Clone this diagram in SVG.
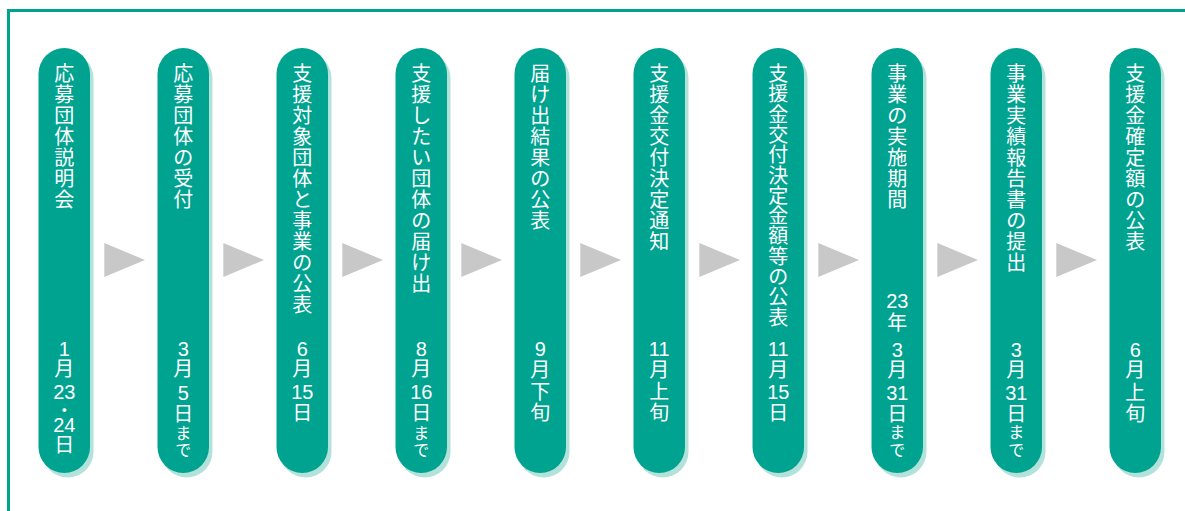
<svg xmlns="http://www.w3.org/2000/svg" width="1185" height="511" viewBox="0 0 1185 511">
<defs>
<style>
.frame{fill:none;stroke:#00a390;stroke-width:3}
.pill{fill:#00a390}
.shadow{fill:#b3e2db}
.arrow{fill:#c8c8c8}
text{font-family:"Liberation Sans","Noto Sans CJK JP",sans-serif;fill:#ffffff;text-anchor:middle;font-size:20px}
.sm{font-size:16px}
.dot{font-size:18px}
</style>
<rect id="pillShape" x="0" y="48" width="51.5" height="425" rx="25.75" ry="25.75"/>
</defs>
<rect width="1185" height="511" fill="#ffffff"/>
<rect class="frame" x="8.5" y="10.5" width="1200" height="600"/>
<g id="connectors">
<polygon class="arrow" points="104.3,243 145,260 104.3,277"/>
<polygon class="arrow" points="223.3,243 264,260 223.3,277"/>
<polygon class="arrow" points="342.3,243 383,260 342.3,277"/>
<polygon class="arrow" points="461.3,243 502,260 461.3,277"/>
<polygon class="arrow" points="580.3,243 621,260 580.3,277"/>
<polygon class="arrow" points="699.3,243 740,260 699.3,277"/>
<polygon class="arrow" points="818.3,243 859,260 818.3,277"/>
<polygon class="arrow" points="937.3,243 978,260 937.3,277"/>
<polygon class="arrow" points="1056.3,243 1097,260 1056.3,277"/>
</g>
<g id="node1">
<use href="#pillShape" class="shadow" x="42" y="4.5"/>
<use href="#pillShape" class="pill" x="38.5"/>
<text x="64.25" y="81">応</text><text x="64.25" y="102">募</text><text x="64.25" y="123">団</text><text x="64.25" y="144">体</text><text x="64.25" y="165">説</text><text x="64.25" y="186">明</text><text x="64.25" y="207">会</text>
<text x="64.25" y="356">1</text><text x="64.25" y="376">月</text><text x="64.25" y="399">23</text><text class="dot" x="64.25" y="416.5">・</text><text x="64.25" y="431.5">24</text><text x="64.25" y="452">日</text>
</g>
<g id="node2">
<use href="#pillShape" class="shadow" x="161" y="4.5"/>
<use href="#pillShape" class="pill" x="157.5"/>
<text x="183.25" y="81">応</text><text x="183.25" y="102">募</text><text x="183.25" y="123">団</text><text x="183.25" y="144">体</text><text x="183.25" y="165">の</text><text x="183.25" y="186">受</text><text x="183.25" y="207">付</text>
<text x="183.25" y="356">3</text><text x="183.25" y="376">月</text><text x="183.25" y="399.5">5</text><text x="183.25" y="421">日</text><text class="sm" x="183.25" y="439">ま</text><text class="sm" x="183.25" y="455.5">で</text>
</g>
<g id="node3">
<use href="#pillShape" class="shadow" x="280" y="4.5"/>
<use href="#pillShape" class="pill" x="276.5"/>
<text x="302.25" y="81">支</text><text x="302.25" y="102">援</text><text x="302.25" y="123">対</text><text x="302.25" y="144">象</text><text x="302.25" y="165">団</text><text x="302.25" y="186">体</text><text x="302.25" y="207">と</text><text x="302.25" y="228">事</text><text x="302.25" y="249">業</text><text x="302.25" y="270">の</text><text x="302.25" y="291">公</text><text x="302.25" y="312">表</text>
<text x="302.25" y="355.5">6</text><text x="302.25" y="376">月</text><text x="302.25" y="399">15</text><text x="302.25" y="420">日</text>
</g>
<g id="node4">
<use href="#pillShape" class="shadow" x="399" y="4.5"/>
<use href="#pillShape" class="pill" x="395.5"/>
<text x="421.25" y="81">支</text><text x="421.25" y="102">援</text><text x="421.25" y="123">し</text><text x="421.25" y="144">た</text><text x="421.25" y="165">い</text><text x="421.25" y="186">団</text><text x="421.25" y="207">体</text><text x="421.25" y="228">の</text><text x="421.25" y="249">届</text><text x="421.25" y="270">け</text><text x="421.25" y="291">出</text>
<text x="421.25" y="355.5">8</text><text x="421.25" y="376">月</text><text x="421.25" y="399">16</text><text x="421.25" y="420">日</text><text class="sm" x="421.25" y="439">ま</text><text class="sm" x="421.25" y="455.5">で</text>
</g>
<g id="node5">
<use href="#pillShape" class="shadow" x="518" y="4.5"/>
<use href="#pillShape" class="pill" x="514.5"/>
<text x="540.25" y="81">届</text><text x="540.25" y="102">け</text><text x="540.25" y="123">出</text><text x="540.25" y="144">結</text><text x="540.25" y="165">果</text><text x="540.25" y="186">の</text><text x="540.25" y="207">公</text><text x="540.25" y="228">表</text>
<text x="540.25" y="356">9</text><text x="540.25" y="376.5">月</text><text x="540.25" y="399">下</text><text x="540.25" y="420">旬</text>
</g>
<g id="node6">
<use href="#pillShape" class="shadow" x="637" y="4.5"/>
<use href="#pillShape" class="pill" x="633.5"/>
<text x="659.25" y="81">支</text><text x="659.25" y="102">援</text><text x="659.25" y="123">金</text><text x="659.25" y="144">交</text><text x="659.25" y="165">付</text><text x="659.25" y="186">決</text><text x="659.25" y="207">定</text><text x="659.25" y="228">通</text><text x="659.25" y="249">知</text>
<text x="659.25" y="356">11</text><text x="659.25" y="376.5">月</text><text x="659.25" y="399">上</text><text x="659.25" y="420">旬</text>
</g>
<g id="node7">
<use href="#pillShape" class="shadow" x="756" y="4.5"/>
<use href="#pillShape" class="pill" x="752.5"/>
<text x="778.25" y="81">支</text><text x="778.25" y="101.3">援</text><text x="778.25" y="121.6">金</text><text x="778.25" y="141.9">交</text><text x="778.25" y="162.2">付</text><text x="778.25" y="182.5">決</text><text x="778.25" y="202.8">定</text><text x="778.25" y="223.1">金</text><text x="778.25" y="243.4">額</text><text x="778.25" y="263.7">等</text><text x="778.25" y="284">の</text><text x="778.25" y="304.3">公</text><text x="778.25" y="324.6">表</text>
<text x="778.25" y="356">11</text><text x="778.25" y="376.5">月</text><text x="778.25" y="399.3">15</text><text x="778.25" y="420">日</text>
</g>
<g id="node8">
<use href="#pillShape" class="shadow" x="875" y="4.5"/>
<use href="#pillShape" class="pill" x="871.5"/>
<text x="897.25" y="81">事</text><text x="897.25" y="102">業</text><text x="897.25" y="123">の</text><text x="897.25" y="144">実</text><text x="897.25" y="165">施</text><text x="897.25" y="186">期</text><text x="897.25" y="207">間</text>
<text x="897.25" y="308.3">23</text><text x="897.25" y="330">年</text><text x="897.25" y="356.7">3</text><text x="897.25" y="376.5">月</text><text x="897.25" y="400">31</text><text x="897.25" y="420.5">日</text><text class="sm" x="897.25" y="437.5">ま</text><text class="sm" x="897.25" y="455.5">で</text>
</g>
<g id="node9">
<use href="#pillShape" class="shadow" x="994" y="4.5"/>
<use href="#pillShape" class="pill" x="990.5"/>
<text x="1016.25" y="81">事</text><text x="1016.25" y="102">業</text><text x="1016.25" y="123">実</text><text x="1016.25" y="144">績</text><text x="1016.25" y="165">報</text><text x="1016.25" y="186">告</text><text x="1016.25" y="207">書</text><text x="1016.25" y="228">の</text><text x="1016.25" y="249">提</text><text x="1016.25" y="270">出</text>
<text x="1016.25" y="356.7">3</text><text x="1016.25" y="376.5">月</text><text x="1016.25" y="400">31</text><text x="1016.25" y="420.5">日</text><text class="sm" x="1016.25" y="437.5">ま</text><text class="sm" x="1016.25" y="455.5">で</text>
</g>
<g id="node10">
<use href="#pillShape" class="shadow" x="1113" y="4.5"/>
<use href="#pillShape" class="pill" x="1109.5"/>
<text x="1135.25" y="81">支</text><text x="1135.25" y="102">援</text><text x="1135.25" y="123">金</text><text x="1135.25" y="144">確</text><text x="1135.25" y="165">定</text><text x="1135.25" y="186">額</text><text x="1135.25" y="207">の</text><text x="1135.25" y="228">公</text><text x="1135.25" y="249">表</text>
<text x="1135.25" y="356.7">6</text><text x="1135.25" y="376.5">月</text><text x="1135.25" y="400">上</text><text x="1135.25" y="421">旬</text>
</g>
</svg>
